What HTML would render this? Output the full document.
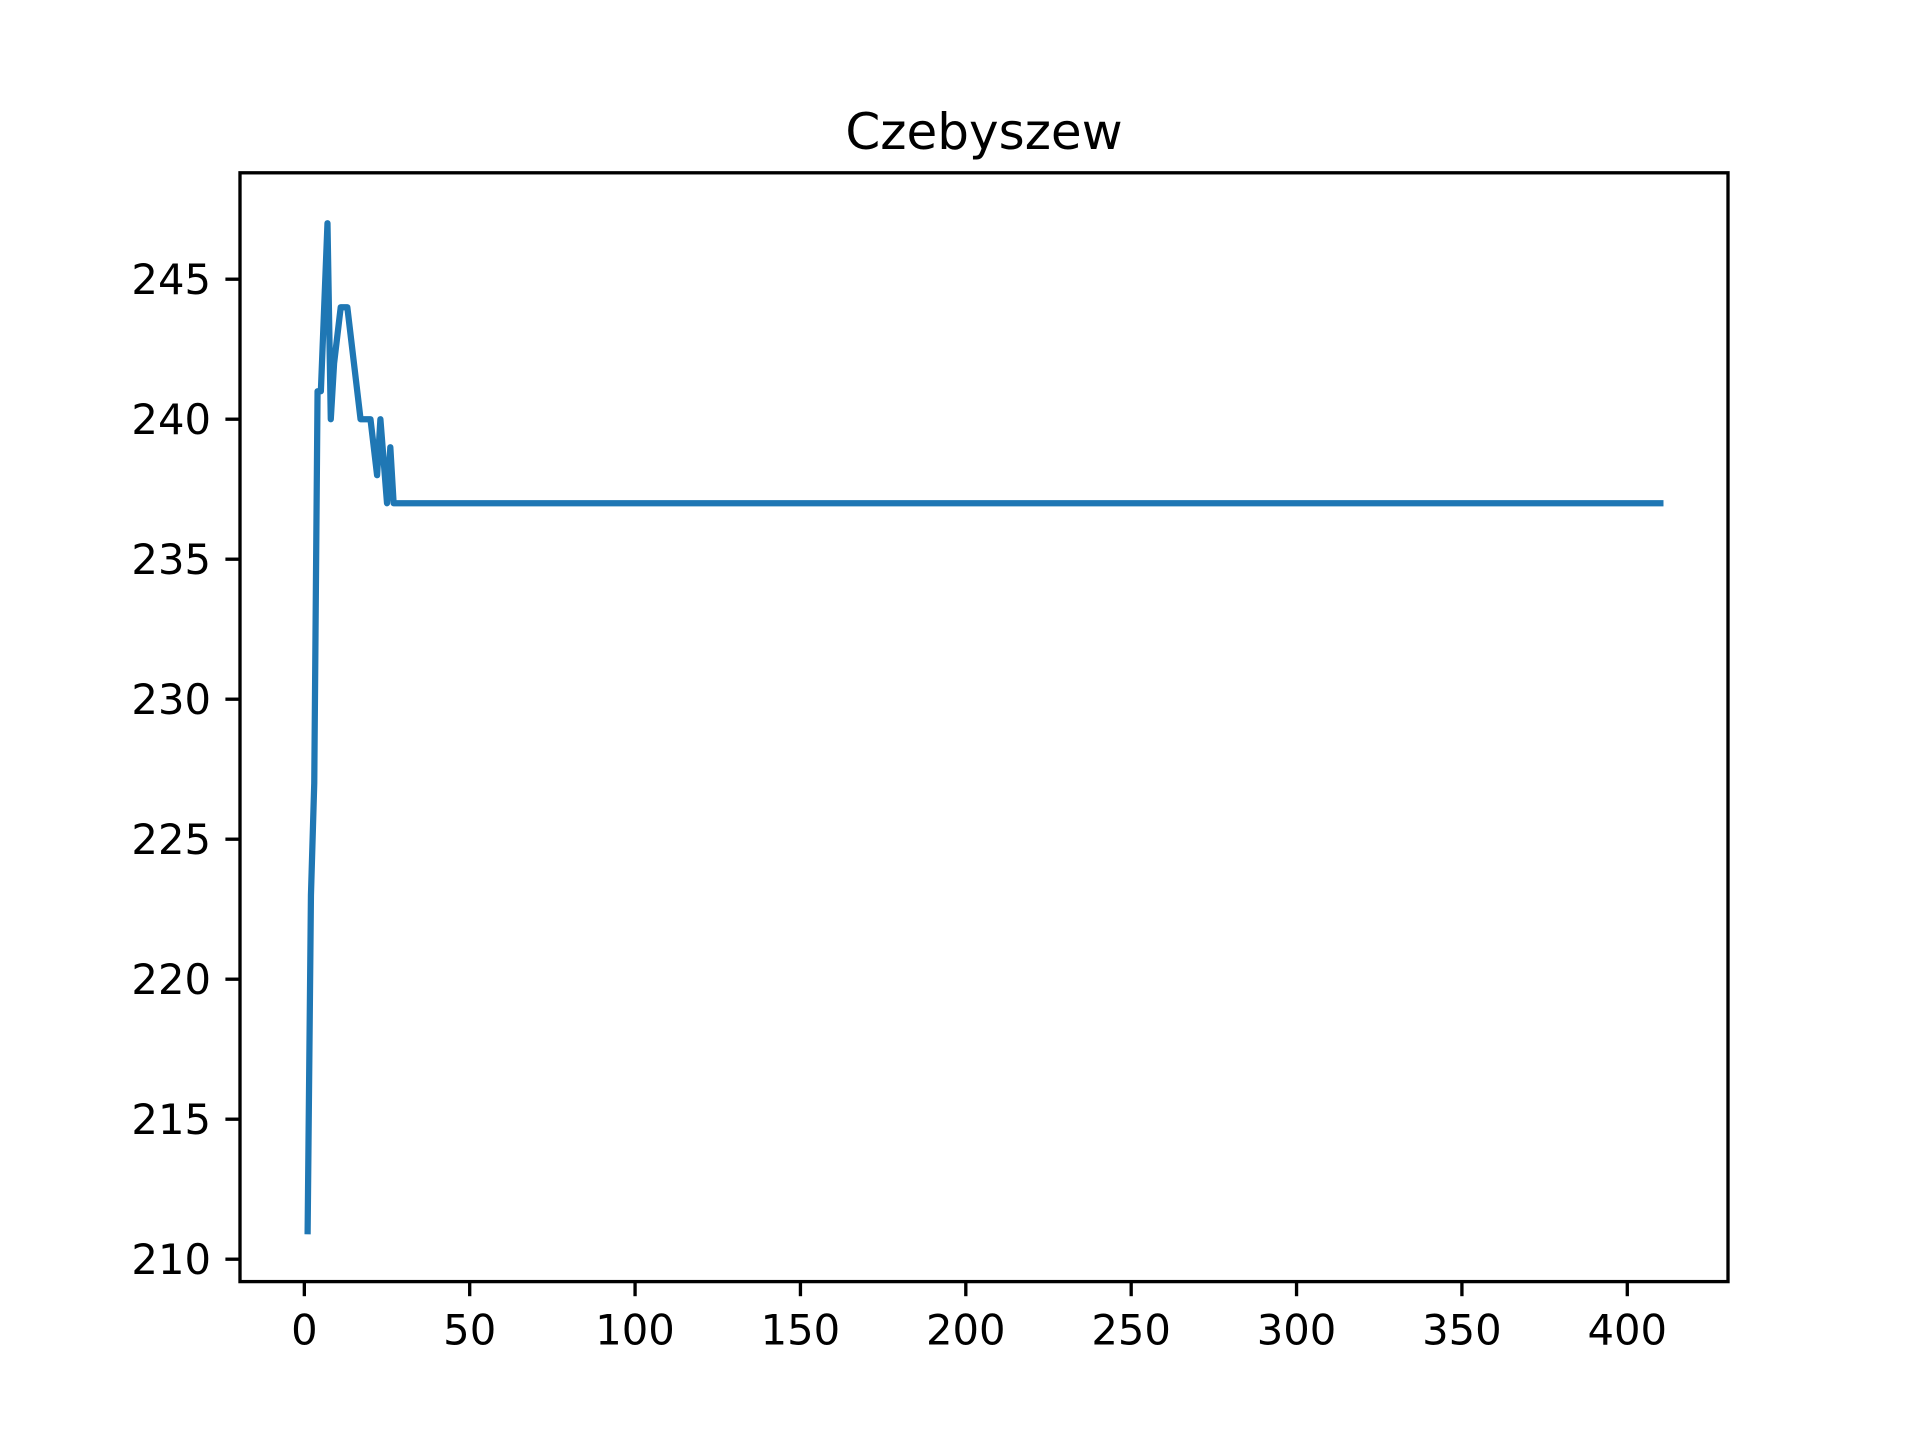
<!DOCTYPE html>
<html><head><meta charset="utf-8"><style>
html,body{margin:0;padding:0;background:#fff;}
svg{display:block;font-family:"DejaVu Sans","Liberation Sans",sans-serif;}
</style></head><body>
<svg id="chart" width="1920" height="1440" viewBox="0 0 1920 1440">
<rect width="1920" height="1440" fill="#fff"/>
<text x="984" y="149" font-size="50" text-anchor="middle">Czebyszew</text>
<g id="plot"></g>
<rect x="240" y="172.8" width="1488" height="1108.8" fill="none" stroke="#000" stroke-width="3.33"/>
</svg>
<script>
const xValues = [1,2,3,4,5,6,7,8,9,11,13,17,20,22,23,25,26,27,410];
const yValues = [211,223,227,241,241,244,247,240,242,244,244,240,240,238,240,237,239,237,237];
const xTicks = [0,50,100,150,200,250,300,350,400];
const yTicks = [210,215,220,225,230,235,240,245];

const L=240,R=1728,T=172.8,B=1281.6;
const xmin=Math.min(...xValues),xmax=Math.max(...xValues),xm=(xmax-xmin)*0.05;
const ymin=Math.min(...yValues),ymax=Math.max(...yValues),ym=(ymax-ymin)*0.05;
const X=v=>L+(v-(xmin-xm))/((xmax+xm)-(xmin-xm))*(R-L);
const Y=v=>B-(v-(ymin-ym))/((ymax+ym)-(ymin-ym))*(B-T);
const NS="http://www.w3.org/2000/svg";
const g=document.getElementById('plot');
function mk(t,a){const e=document.createElementNS(NS,t);for(const k in a)e.setAttribute(k,a[k]);g.appendChild(e);return e;}

xTicks.forEach(t=>{
  const l=mk('line',{x1:X(t),x2:X(t),y1:B,y2:B+14.6,stroke:'#000','stroke-width':3.33});
  
  
  const s=mk('text',{x:X(t),y:B+63,'font-size':41.7,'text-anchor':'middle'});
  s.textContent=t;
  
  
});
yTicks.forEach(t=>{
  const l=mk('line',{x1:L-14.6,x2:L,y1:Y(t),y2:Y(t),stroke:'#000','stroke-width':3.33});
  
  
  const s=mk('text',{x:L-29,y:Y(t)+15,'font-size':41.7,'text-anchor':'end'});
  s.textContent=t;
  
  
});
const p=mk('polyline',{points:xValues.map((x,i)=>X(x)+','+Y(yValues[i])).join(' '),fill:'none',stroke:'#1f77b4','stroke-width':6.25,'stroke-linejoin':'round','stroke-linecap':'square'});


</script>
</body></html>
